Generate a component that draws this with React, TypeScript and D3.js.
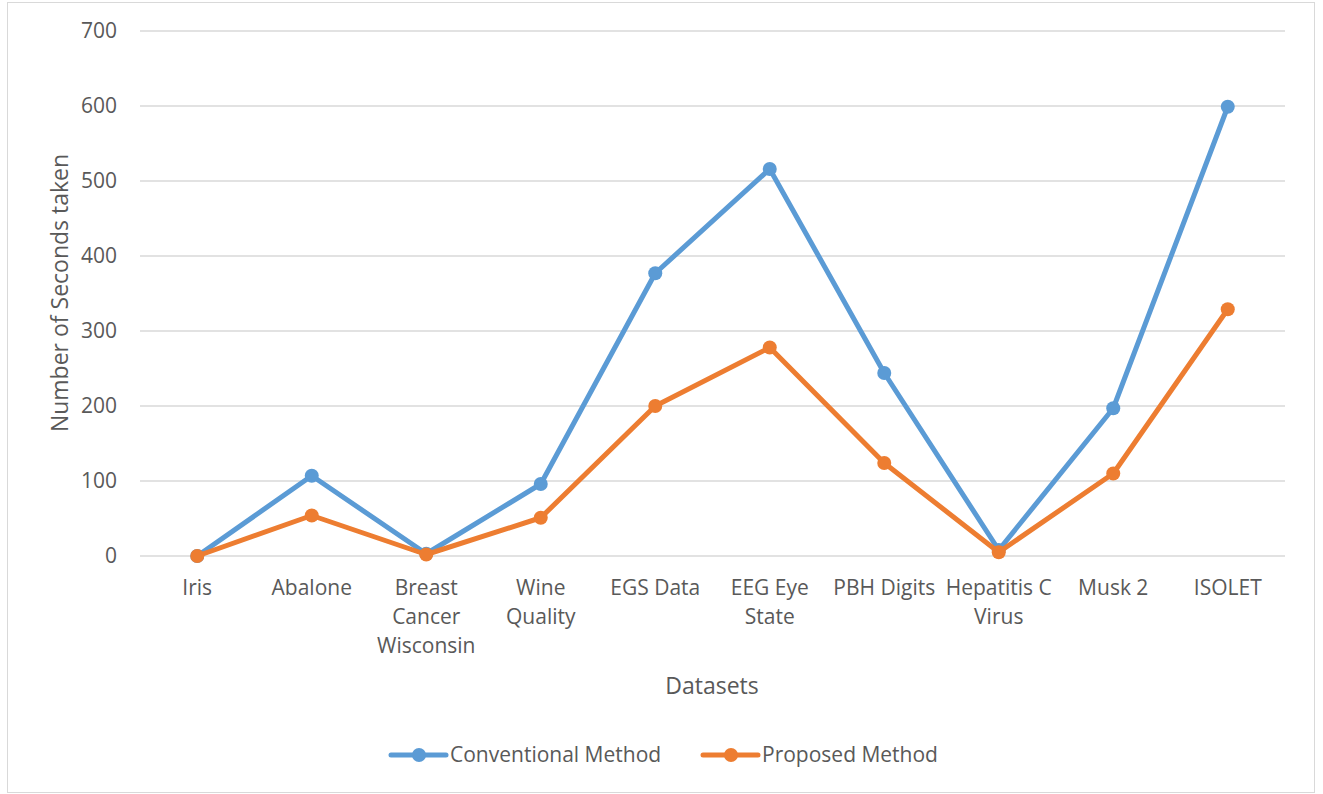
import React from "react";
import * as d3 from "d3";

const categories = ["Iris", "Abalone", "Breast Cancer Wisconsin", "Wine Quality", "EGS Data", "EEG Eye State", "PBH Digits", "Hepatitis C Virus", "Musk 2", "ISOLET"];
const categoryLines = [["Iris"], ["Abalone"], ["Breast", "Cancer", "Wisconsin"], ["Wine", "Quality"], ["EGS Data"], ["EEG Eye", "State"], ["PBH Digits"], ["Hepatitis C", "Virus"], ["Musk 2"], ["ISOLET"]];
const conventional = [0, 107, 3, 96, 377, 516, 244, 8, 197, 599];
const proposed = [0, 54, 2, 51, 200, 278, 124, 5, 110, 329];
const yTicks = [0, 100, 200, 300, 400, 500, 600, 700];
const seriesNames = ["Conventional Method", "Proposed Method"];
const colors = ["#5b9bd5", "#ed7d31"];

export default function App() {
  const W = 1323, H = 794;
  const left = 140, right = 1285, top = 31, bottom = 556;
  const x = d3.scaleBand<string>().domain(categories).range([left, right]);
  const y = d3.scaleLinear().domain([0, 700]).range([bottom, top]);
  const cx = (c: string) => (x(c) as number) + x.bandwidth() / 2;
  const line = d3.line<number>().x((_, i) => cx(categories[i])).y((d) => y(d));
  const font = "'Open Sans', sans-serif";
  const textColor = "#595959";
  const series = [conventional, proposed];
  const legendX = [391, 703];
  const fs = 21;
  const tfs = 23;
  return (
    <svg width={W} height={H} style={{ position: "absolute", left: 0, top: 0 }} fontFamily={font}>
      <rect x={0} y={0} width={W} height={H} fill="#fff" />
      <rect x={7.5} y={2.5} width={1307} height={790} fill="none" stroke="#d9d9d9" strokeWidth={1} />
      {yTicks.map((t) => (
        <g key={t}>
          <line x1={left} x2={right} y1={y(t)} y2={y(t)} stroke="#d9d9d9" strokeWidth={1.5} />
          <text x={117} y={y(t)} dy="0.35em" textAnchor="end" fontSize={fs} fill={textColor}>{t}</text>
        </g>
      ))}
      {categoryLines.map((lines, i) => (
        <text key={i} x={cx(categories[i])} y={595} textAnchor="middle" fontSize={fs} fill={textColor}>
          {lines.map((l, j) => (
            <tspan key={j} x={cx(categories[i])} dy={j === 0 ? 0 : 29}>{l}</tspan>
          ))}
        </text>
      ))}
      <text x={712} y={694} textAnchor="middle" fontSize={tfs} fill={textColor}>Datasets</text>
      <text transform={`translate(68,293) rotate(-90)`} textAnchor="middle" fontSize={tfs} fill={textColor}>Number of Seconds taken</text>
      {series.map((s, k) => (
        <g key={k}>
          <path d={line(s) as string} fill="none" stroke={colors[k]} strokeWidth={5} strokeLinejoin="round" strokeLinecap="round" />
          {s.map((v, i) => (
            <circle key={i} cx={cx(categories[i])} cy={y(v)} r={7} fill={colors[k]} />
          ))}
        </g>
      ))}
      {seriesNames.map((n, k) => (
        <g key={n}>
          <line x1={legendX[k]} x2={legendX[k] + 55} y1={755} y2={755} stroke={colors[k]} strokeWidth={5} strokeLinecap="round" />
          <circle cx={legendX[k] + 28} cy={755} r={7} fill={colors[k]} />
          <text x={legendX[k] + 59} y={755} dy="0.35em" fontSize={fs} fill={textColor}>{n}</text>
        </g>
      ))}
    </svg>
  );
}
